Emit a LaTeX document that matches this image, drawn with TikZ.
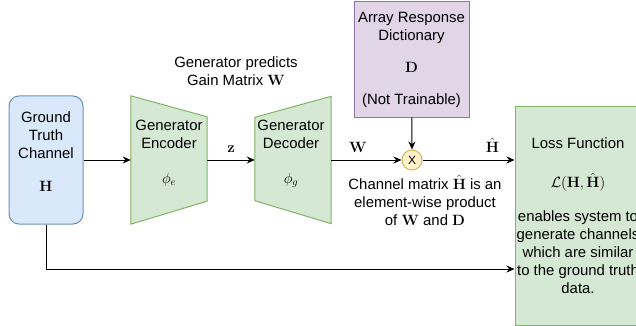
\RequirePackage{fix-cm}
\documentclass[tikz,border=0pt]{standalone}
\usepackage{amsmath}
\usepackage{amsfonts}
\usepackage[no-math]{fontspec}
\setmainfont{Liberation Sans}
\usetikzlibrary{arrows.meta}
\definecolor{bluefill}{HTML}{DAE8FC}
\definecolor{blueline}{HTML}{6C8EBF}
\definecolor{greenfill}{HTML}{D5E8D4}
\definecolor{greenline}{HTML}{82B366}
\definecolor{purplefill}{HTML}{E1D5E7}
\definecolor{purpleline}{HTML}{9673A6}
\definecolor{yellowfill}{HTML}{FFF2CC}
\definecolor{yellowline}{HTML}{D6B656}

\begin{document}
\begin{tikzpicture}[x=1pt,y=-1pt]
		\useasboundingbox (0,0) rectangle (636,326);
		\clip (0,0) rectangle (636,326);
		\tikzset{txt/.style={font=\fontsize{14.9}{18}\selectfont,align=center,inner sep=0pt}} %plain text
		\tikzset{arr/.style={draw=black,line width=1pt,-{Stealth[length=8pt,width=7pt]}}}
		\node[draw=blueline,fill=bluefill,line width=1pt,rounded corners=10pt,minimum width=74pt,minimum height=128pt] (gt) at (46,160) {}; % ground truth
		\node[txt] (gttext) at (46,152) {Ground\\Truth\\Channel\\[15pt]$\mathbf{H}$};
		\node[minimum width=76pt,minimum height=128pt,inner sep=0pt] (enc) at (169,160) {}; % encoder
		\draw[draw=greenline,fill=greenfill,line width=1pt] (enc.north west) -- ([yshift=-21pt]enc.north east) -- ([yshift=23pt]enc.south east) -- (enc.south west) -- cycle;
		\node[txt] (enctext) at (169,153.5) {Generator\\Encoder\\[17pt]$\phi_e$};
		\node[minimum width=76pt,minimum height=127pt,inner sep=0pt] (dec) at (293,160) {}; % decoder
		\draw[draw=greenline,fill=greenfill,line width=1pt] ([yshift=-21pt]dec.north west) -- (dec.north east) -- (dec.south east) -- ([yshift=23pt]dec.south west) -- cycle;
		\node[txt] (dectext) at (291,153.5) {Generator\\Decoder\\[17pt]$\phi_g$};
		\node[txt,draw=purpleline,fill=purplefill,line width=1pt,minimum width=115pt,minimum height=115pt] (dict) at (411.5,59.5) {Array Response\\Dictionary\\[14pt]$\mathbf{D}$\\[14pt](Not Trainable)}; % dictionary
		\node[draw=yellowline,fill=yellowfill,line width=1pt,circle,minimum size=20pt,inner sep=0pt,font=\fontsize{12}{14}\selectfont] (mul) at (412,160) {X}; % product
		\node[txt,draw=greenline,fill=greenfill,line width=1pt,minimum width=126pt,minimum height=219pt] (loss) at (578,215.5) {Loss Function\\[21pt]$\mathcal{L}(\mathbf{H},\hat{\mathbf{H}})$\\[16pt]enables system to\\generate channels\\which are similar\\to the ground truth\\data.}; % loss
		\node[txt] (predicts) at (236,71) {Generator predicts\\Gain Matrix $\mathbf{W}$};
		\node[txt] (product) at (425,200) {Channel matrix $\hat{\mathbf{H}}$ is an\\element-wise product\\of $\mathbf{W}$ and $\mathbf{D}$};
		\coordinate (tap) at (46,269);
		\draw[arr] (gt.east) -- (gt.east -| enc.west); % forward path
		\draw[arr] (enc.east) -- node[above=4pt,font=\fontsize{14.9}{18}\selectfont] {$\mathbf{z}$} (dec.west);
		\draw[arr] (dec.east) -- node[above=4pt,pos=0.38,font=\fontsize{14.9}{18}\selectfont] {$\mathbf{W}$} (mul);
		\draw[arr] (dict) -- (mul);
		\draw[arr] (mul) -- node[above=4pt,pos=0.76,font=\fontsize{14.9}{18}\selectfont] {$\hat{\mathbf{H}}$} (mul -| loss.west);
		\draw[arr] (gt.south) -- (tap) -- (tap -| loss.west); % ground truth to loss
	\end{tikzpicture}
\end{document}
